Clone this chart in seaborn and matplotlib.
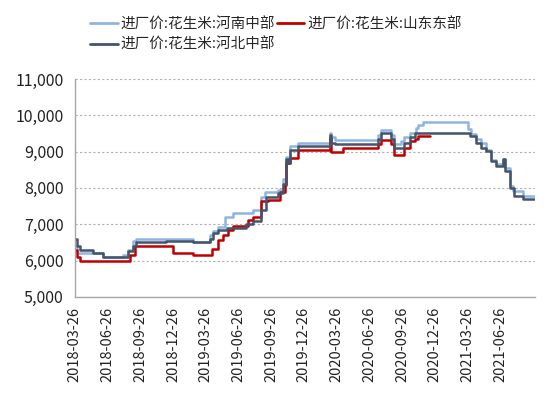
import pandas as pd
import numpy as np
import matplotlib
matplotlib.use('Agg')
import matplotlib.pyplot as plt
import matplotlib.dates as mdates
from matplotlib.ticker import FuncFormatter
import seaborn as sns

# series names
NAME_HENAN = '进厂价:花生米:河南中部'
NAME_SHANDONG = '进厂价:花生米:山东东部'
NAME_HEBEI = '进厂价:花生米:河北中部'

# Henan (light blue) - step points
henan_dates = ['2018-03-26', '2018-03-31', '2018-06-13', '2018-08-08', '2018-08-22', '2018-09-05',
               '2018-09-14', '2019-02-19', '2019-04-07', '2019-04-16', '2019-04-30', '2019-05-20',
               '2019-06-11', '2019-08-06', '2019-08-29', '2019-09-07', '2019-10-15', '2019-10-29',
               '2019-11-07', '2019-11-12', '2019-11-16', '2019-12-09', '2020-03-07', '2020-03-12',
               '2020-03-21', '2020-07-20', '2020-07-29', '2020-08-26', '2020-09-04', '2020-09-23',
               '2020-10-02', '2020-10-16', '2020-11-04', '2020-11-08', '2020-11-22', '2021-03-28',
               '2021-04-06', '2021-04-20', '2021-05-04', '2021-05-18', '2021-06-01', '2021-06-15',
               '2021-07-04', '2021-07-09', '2021-07-23', '2021-08-01', '2021-08-29', '2021-09-30']
henan_values = [6400, 6200, 6100, 6150, 6300, 6550,
                6600, 6520, 6700, 6800, 6930, 7200,
                7300, 7400, 7750, 7900, 7950, 8250,
                8850, 8800, 9150, 9250, 9520, 9400,
                9330, 9470, 9600, 9450, 9200, 9300,
                9400, 9520, 9650, 9730, 9820, 9620,
                9480, 9340, 9250, 9050, 8780, 8650,
                8790, 8550, 8050, 7910, 7790, 7790]

# Shandong (red)
shandong_dates = ['2018-03-26', '2018-03-31', '2018-04-09', '2018-08-27', '2018-09-10', '2018-12-25',
                  '2019-02-19', '2019-04-12', '2019-04-30', '2019-05-14', '2019-05-28', '2019-06-11',
                  '2019-07-23', '2019-08-06', '2019-08-29', '2019-09-17', '2019-10-19', '2019-11-02',
                  '2019-11-07', '2019-11-16', '2019-12-09', '2020-03-07', '2020-03-12', '2020-04-13',
                  '2020-07-20', '2020-07-29', '2020-08-26', '2020-09-04', '2020-10-02', '2020-10-16',
                  '2020-10-30', '2020-11-08', '2020-12-11']
shandong_values = [6300, 6100, 6000, 6150, 6400, 6200,
                   6150, 6330, 6570, 6700, 6840, 6940,
                   7120, 7190, 7630, 7680, 7900, 8090,
                   8700, 8830, 9050, 9380, 9000, 9100,
                   9200, 9330, 9200, 8920, 9100, 9300,
                   9340, 9420, 9420]

# Hebei (dark slate)
hebei_dates = ['2018-03-26', '2018-03-31', '2018-04-09', '2018-05-16', '2018-06-13', '2018-08-22',
               '2018-09-05', '2018-09-14', '2018-12-07', '2019-02-19', '2019-04-07', '2019-04-16',
               '2019-04-30', '2019-05-24', '2019-07-18', '2019-08-06', '2019-08-29', '2019-09-12',
               '2019-10-15', '2019-10-29', '2019-11-07', '2019-11-12', '2019-11-16', '2019-12-09',
               '2020-03-07', '2020-03-12', '2020-03-21', '2020-07-20', '2020-07-29', '2020-08-26',
               '2020-09-04', '2020-10-02', '2020-10-16', '2020-10-30', '2021-04-02', '2021-04-20',
               '2021-05-04', '2021-05-18', '2021-06-01', '2021-06-15', '2021-07-04', '2021-07-09',
               '2021-07-23', '2021-08-05', '2021-08-29', '2021-09-30']
hebei_values = [6600, 6400, 6300, 6200, 6100, 6250,
                6400, 6500, 6550, 6500, 6600, 6750,
                6850, 6900, 7000, 7080, 7400, 7750,
                7850, 8100, 8800, 8700, 9050, 9150,
                9450, 9250, 9200, 9350, 9520, 9350,
                9100, 9250, 9400, 9510, 9430, 9250,
                9110, 9020, 8740, 8600, 8790, 8460,
                8000, 7790, 7700, 7700]

tick_dates = ['2018-03-26', '2018-06-26', '2018-09-26', '2018-12-26', '2019-03-26', '2019-06-26',
              '2019-09-26', '2019-12-26', '2020-03-26', '2020-06-26', '2020-09-26', '2020-12-26',
              '2021-03-26', '2021-06-26']

colors = {NAME_HENAN: '#8EB4E3', NAME_SHANDONG: '#C00000', NAME_HEBEI: '#44546A'}

# long-form table
df = pd.concat([
    pd.DataFrame({'date': pd.to_datetime(henan_dates), 'price': henan_values, 'series': NAME_HENAN}),
    pd.DataFrame({'date': pd.to_datetime(shandong_dates), 'price': shandong_values, 'series': NAME_SHANDONG}),
    pd.DataFrame({'date': pd.to_datetime(hebei_dates), 'price': hebei_values, 'series': NAME_HEBEI}),
], ignore_index=True)

sns.set_style('white')
plt.rcParams['font.family'] = ['Noto Sans CJK SC', 'DejaVu Sans']

fig = plt.figure(figsize=(5.5, 3.99), dpi=100)
ax = fig.add_axes([0.136, 0.256, 0.837, 0.546])

sns.lineplot(data=df, x='date', y='price', hue='series', palette=colors,
             hue_order=[NAME_HENAN, NAME_SHANDONG, NAME_HEBEI],
             estimator=None, drawstyle='steps-post', linewidth=1.8, ax=ax, legend=False)

ax.set_ylim(5000, 11000)
ax.set_yticks(np.arange(5000, 11001, 1000))
ax.yaxis.set_major_formatter(FuncFormatter(lambda v, p: f'{int(v):,}'))
ax.set_xlim(pd.Timestamp('2018-03-26'), pd.Timestamp('2021-10-02'))
ax.set_xticks(pd.to_datetime(tick_dates))
ax.xaxis.set_major_formatter(mdates.DateFormatter('%Y-%m-%d'))
plt.setp(ax.get_xticklabels(), rotation=90)
ax.tick_params(axis='x', labelsize=10.5, colors='#999999', labelcolor='#222222',
               direction='out', length=5, width=0.8, pad=2)
ax.tick_params(axis='y', labelsize=11.5, colors='#999999', labelcolor='#222222',
               direction='out', length=5, width=0.8, pad=3)
ax.set_xlabel('')
ax.set_ylabel('')

ax.grid(axis='y', linestyle=(0, (2, 2)), color='#b0b0b0', linewidth=0.8)
ax.grid(axis='x', visible=False)
for s in ['top', 'right']:
    ax.spines[s].set_visible(False)
for s in ['left', 'bottom']:
    ax.spines[s].set_color('#a6a6a6')
    ax.spines[s].set_linewidth(1.0)

# legend: Henan / Shandong on row 1, Hebei on row 2
handles = {n: plt.Line2D([], [], color=c, linewidth=2) for n, c in colors.items()}
order = [NAME_HENAN, NAME_HEBEI, NAME_SHANDONG]
fig.legend([handles[n] for n in order], order, loc='upper left',
           bbox_to_anchor=(0.145, 0.982), ncol=2, frameon=False, fontsize=10.5,
           handlelength=1.9, handletextpad=0.2, columnspacing=0.1, labelspacing=0.45,
           borderaxespad=0.3)

fig.savefig('out.png', dpi=100)
